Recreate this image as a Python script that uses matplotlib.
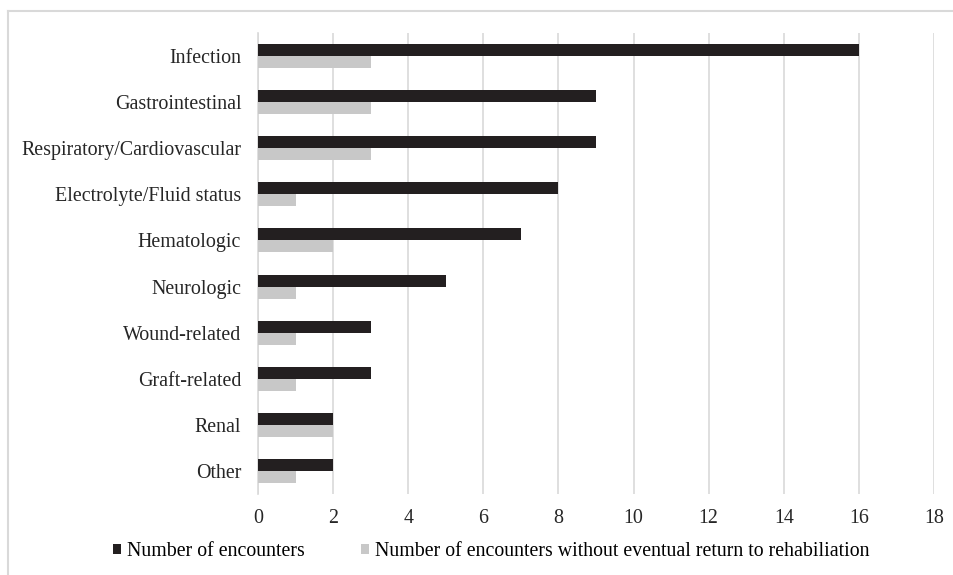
import matplotlib.pyplot as plt
from matplotlib.lines import Line2D
import numpy as np

categories = ['Infection', 'Gastrointestinal', 'Respiratory/Cardiovascular',
              'Electrolyte/Fluid status', 'Hematologic', 'Neurologic',
              'Wound-related', 'Graft-related', 'Renal', 'Other']
encounters = [16, 9, 9, 8, 7, 5, 3, 3, 2, 2]
no_return = [3, 3, 3, 1, 2, 1, 1, 1, 2, 1]
xticks = [0, 2, 4, 6, 8, 10, 12, 14, 16, 18]

plt.rcParams['font.family'] = ['Liberation Serif', 'DejaVu Serif']

fig = plt.figure(figsize=(9.54, 5.75), dpi=100)
ax = fig.add_axes([0.2704, 0.1409, 0.7086, 0.8017])

y = np.arange(len(categories))
h = 0.26
ax.barh(y - h / 2, encounters, height=h, color='#231f20',
        label='Number of encounters', zorder=3)
ax.barh(y + h / 2, no_return, height=h, color='#c8c8c8',
        label='Number of encounters without eventual return to rehabiliation', zorder=3)

ax.set_ylim(len(categories) - 0.5, -0.5)
ax.set_xlim(0, 18)
ax.set_xticks(xticks)
ax.set_yticks(y)
ax.set_yticklabels(categories)
ax.tick_params(axis='both', length=0, labelsize=14.4, colors='#262626')
ax.tick_params(axis='x', pad=11)
ax.tick_params(axis='y', pad=12)
ax.grid(axis='x', color='#d9d9d9', linewidth=1.2, zorder=0)
for s in ['top', 'right', 'bottom']:
    ax.spines[s].set_visible(False)
ax.spines['left'].set_color('#d9d9d9')
ax.spines['left'].set_linewidth(1.2)

ax.legend(loc='center', bbox_to_anchor=(0.515, 0.041), bbox_transform=fig.transFigure,
          ncol=2, frameon=False, fontsize=14.3, handlelength=0.42, handleheight=0.42,
          handletextpad=0.3, columnspacing=2.8, borderpad=0)

# light border round the chart area
fig.add_artist(Line2D([8 / 954, 1], [1 - 11 / 575] * 2, color='#d9d9d9', lw=1.5))
fig.add_artist(Line2D([8 / 954] * 2, [0, 1 - 11 / 575], color='#d9d9d9', lw=1.5))

fig.savefig('out.png', dpi=100)
